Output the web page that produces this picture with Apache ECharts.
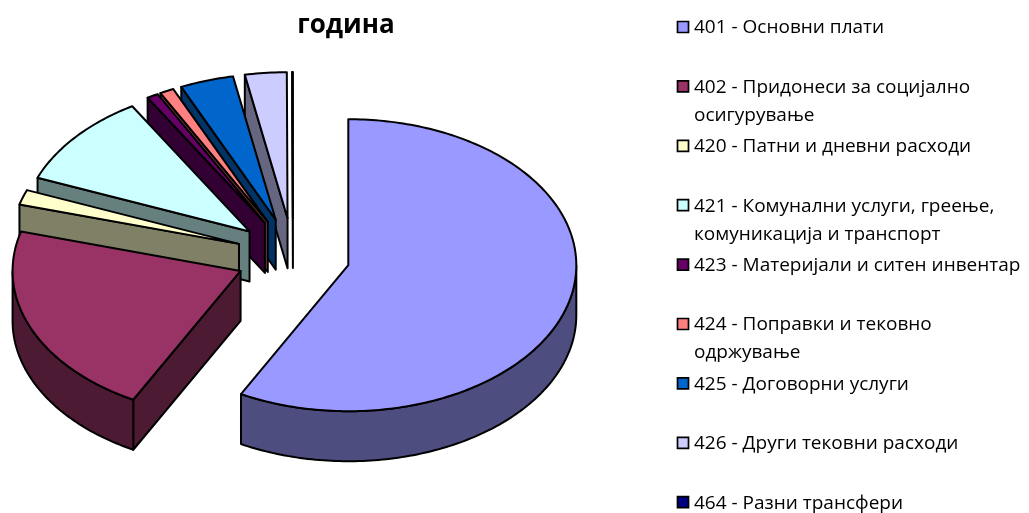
<!DOCTYPE html>
<html>
<head>
<meta charset="utf-8">
<style>html,body{margin:0;padding:0;background:#fff}#c{width:1029px;height:513px}</style>
<script src="https://cdn.jsdelivr.net/npm/echarts@6/dist/echarts.min.js"></script>
</head>
<body>
<div id="c"></div>
<script>
const titleText = 'година';
const categories = [
  '401 - Основни плати',
  '402 - Придонеси за социјално\nосигурување',
  '420 - Патни и дневни расходи',
  '421 - Комунални услуги, греење,\nкомуникација и транспорт',
  '423 - Материјали и ситен инвентар',
  '424 - Поправки и тековно\nодржување',
  '425 - Договорни услуги',
  '426 - Други тековни расходи',
  '464 - Разни трансфери'
];
const shares = [57.8, 21.55, 1.65, 10.4, 0.8, 1.0, 3.8, 2.95, 0.05];
const topColors = ['#9999FF','#993366','#FFFFCC','#CCFFFF','#660066','#FF8080','#0066CC','#CCCCFF','#000080'];
const sideColors = ['#4D4D80','#4D1A33','#808066','#668080','#330033','#804040','#003366','#666680','#000040'];

const total = shares.reduce((a, b) => a + b, 0);
let running = 0;
const sliceData = shares.map((v, i) => {
  const start = running / total * 360;
  running += v;
  return { name: categories[i], value: [v, start, running / total * 360, i] };
}).reverse();
const legendData = categories.map((n, i) => ({ name: n, value: [i] }));

const CX = 293, CY = 256, RX = 228, RY = 146, DEPTH = 50, EX = 57, EY = 38;
const FONT = '"Open Sans", sans-serif';

function pt(c, t, r) {
  const a = t * Math.PI / 180;
  return [c[0] + r * RX * Math.sin(a), c[1] - r * RY * Math.cos(a)];
}
function down(p) { return [p[0], p[1] + DEPTH]; }
function poly(points, fill) {
  return { type: 'polygon', shape: { points },
    style: { fill, stroke: '#000', lineWidth: 2, lineJoin: 'round' } };
}
function renderSlice(params, api) {
  const s = api.value(1), e = api.value(2), i = api.value(3);
  const mid = (s + e) / 2 * Math.PI / 180;
  const c = [CX + EX * Math.sin(mid), CY - EY * Math.cos(mid)];
  const arc = [];
  const steps = Math.max(2, Math.ceil(e - s));
  for (let k = 0; k <= steps; k++) arc.push(pt(c, s + (e - s) * k / steps, 1));
  const children = [];
  const side = sideColors[i];
  if (s >= 180) children.push(poly([c, arc[0], down(arc[0]), down(c)], side));
  if (e <= 180) children.push(poly([c, arc[steps], down(arc[steps]), down(c)], side));
  const ws = Math.max(s, 90), we = Math.min(e, 270);
  if (we > ws) {
    const n = Math.ceil(we - ws), w = [];
    for (let k = 0; k <= n; k++) w.push(pt(c, ws + (we - ws) * k / n, 1));
    children.push(poly(w.concat(w.slice().reverse().map(down)), side));
  }
  children.push(poly([c].concat(arc), topColors[i]));
  return { type: 'group', children };
}
function renderLegend(params, api) {
  const i = api.value(0), y = 27 + 59.4 * i;
  return { type: 'group', children: [
    { type: 'rect', shape: { x: 677.5, y: y - 5.5, width: 11, height: 11 },
      style: { fill: topColors[i], stroke: '#000', lineWidth: 1.7 } },
    { type: 'text', x: 694, y: y - 13,
      style: { text: categories[i], fill: '#000', font: '19px ' + FONT, lineHeight: 28,
               textAlign: 'left', textVerticalAlign: 'top' } }
  ]};
}
const chart = echarts.init(document.getElementById('c'), null, { renderer: 'canvas' });
chart.setOption({
  animation: false,
  backgroundColor: '#fff',
  title: { text: titleText, left: 341, top: 8, textAlign: 'center',
    textStyle: { fontFamily: FONT, fontSize: 26, fontWeight: 'bold', color: '#000' } },
  tooltip: { show: false },
  series: [
    { type: 'custom', name: 'slices', coordinateSystem: 'none', renderItem: renderSlice,
      data: sliceData, encode: { value: 0 }, silent: true },
    { type: 'custom', name: 'legend', coordinateSystem: 'none', renderItem: renderLegend,
      data: legendData, silent: true }
  ]
});
</script>
</body>
</html>
